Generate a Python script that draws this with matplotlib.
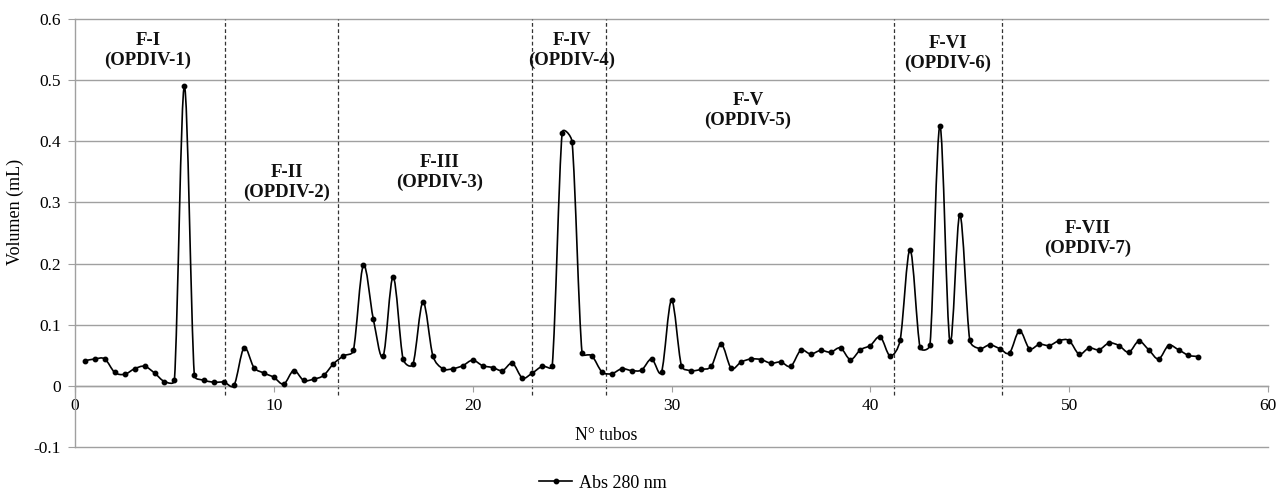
import numpy as np
import matplotlib
matplotlib.use('Agg')
import matplotlib.pyplot as plt
from matplotlib.path import Path
from matplotlib.patches import PathPatch
from matplotlib.lines import Line2D

plt.rcParams['font.family'] = ['Liberation Serif', 'DejaVu Serif']

# N° de tubo (cada 0.5)
tubes = [0.5, 1.0, 1.5, 2.0, 2.5, 3.0, 3.5, 4.0, 4.5, 5.0,
         5.5, 6.0, 6.5, 7.0, 7.5, 8.0, 8.5, 9.0, 9.5, 10.0,
         10.5, 11.0, 11.5, 12.0, 12.5, 13.0, 13.5, 14.0, 14.5, 15.0,
         15.5, 16.0, 16.5, 17.0, 17.5, 18.0, 18.5, 19.0, 19.5, 20.0,
         20.5, 21.0, 21.5, 22.0, 22.5, 23.0, 23.5, 24.0, 24.5, 25.0,
         25.5, 26.0, 26.5, 27.0, 27.5, 28.0, 28.5, 29.0, 29.5, 30.0,
         30.5, 31.0, 31.5, 32.0, 32.5, 33.0, 33.5, 34.0, 34.5, 35.0,
         35.5, 36.0, 36.5, 37.0, 37.5, 38.0, 38.5, 39.0, 39.5, 40.0,
         40.5, 41.0, 41.5, 42.0, 42.5, 43.0, 43.5, 44.0, 44.5, 45.0,
         45.5, 46.0, 46.5, 47.0, 47.5, 48.0, 48.5, 49.0, 49.5, 50.0,
         50.5, 51.0, 51.5, 52.0, 52.5, 53.0, 53.5, 54.0, 54.5, 55.0,
         55.5, 56.0, 56.5]

# Abs 280 nm
abs280 = [0.041, 0.044, 0.044, 0.022, 0.019, 0.028, 0.032, 0.021, 0.007, 0.009,
          0.490, 0.018, 0.009, 0.006, 0.006, 0.001, 0.062, 0.030, 0.021, 0.014,
          0.003, 0.025, 0.009, 0.011, 0.017, 0.036, 0.049, 0.058, 0.197, 0.110,
          0.049, 0.178, 0.044, 0.036, 0.137, 0.049, 0.028, 0.028, 0.033, 0.042,
          0.033, 0.030, 0.025, 0.037, 0.013, 0.021, 0.032, 0.032, 0.414, 0.399,
          0.054, 0.049, 0.023, 0.020, 0.028, 0.025, 0.026, 0.044, 0.023, 0.140,
          0.033, 0.025, 0.027, 0.032, 0.068, 0.029, 0.039, 0.044, 0.043, 0.037,
          0.039, 0.032, 0.058, 0.052, 0.058, 0.055, 0.062, 0.043, 0.059, 0.066,
          0.080, 0.049, 0.075, 0.223, 0.063, 0.067, 0.425, 0.073, 0.280, 0.075,
          0.061, 0.067, 0.061, 0.054, 0.090, 0.061, 0.068, 0.066, 0.074, 0.074,
          0.052, 0.062, 0.059, 0.070, 0.066, 0.055, 0.073, 0.059, 0.044, 0.066,
          0.059, 0.050, 0.048]

cortes = [7.55, 13.25, 23.0, 26.7, 41.2, 46.6]

fracciones = ['F-I\n(OPDIV-1)', 'F-II\n(OPDIV-2)', 'F-III\n(OPDIV-3)',
              'F-IV\n(OPDIV-4)', 'F-V\n(OPDIV-5)', 'F-VI\n(OPDIV-6)',
              'F-VII\n(OPDIV-7)']
frac_x = [3.67, 10.66, 18.36, 24.98, 33.85, 43.9, 50.95]
frac_y = [0.549, 0.333, 0.349, 0.549, 0.451, 0.543, 0.241]

xticks = [0, 10, 20, 30, 40, 50, 60]
yticks = [-0.1, 0, 0.1, 0.2, 0.3, 0.4, 0.5, 0.6]
ytick_labels = ['-0.1', '0', '0.1', '0.2', '0.3', '0.4', '0.5', '0.6']

gris = '#a0a0a0'

fig = plt.figure(figsize=(12.88, 4.93), dpi=100)
ax = fig.add_axes([75 / 1288, 46 / 493, 1193 / 1288, 428 / 493])
ax.set_xlim(0, 60)
ax.set_ylim(-0.1, 0.6)

# curva suavizada tipo Excel: bezier con puntos de control limitados (en pixeles)
P = ax.transData.transform(np.column_stack([tubes, abs280]))
n = len(P)
verts = [P[0]]
codes = [Path.MOVETO]
for i in range(n - 1):
    p0 = P[max(i - 1, 0)]
    p1 = P[i]
    p2 = P[i + 1]
    p3 = P[min(i + 2, n - 1)]
    seg = np.hypot(*(p2 - p1))
    t1 = (p2 - p0) / 6
    t2 = (p3 - p1) / 6
    l1 = np.hypot(*t1)
    l2 = np.hypot(*t2)
    if l1 > seg / 2:
        t1 = t1 * (seg / 2) / l1
    if l2 > seg / 2:
        t2 = t2 * (seg / 2) / l2
    verts += [p1 + t1, p2 - t2, p2]
    codes += [Path.CURVE4] * 3
verts = ax.transData.inverted().transform(np.array(verts))
ax.add_patch(PathPatch(Path(verts, codes), fill=False, edgecolor='black', lw=1.2, zorder=3))
ax.plot(tubes, abs280, ls='none', marker='o', ms=3.2, color='black', zorder=4)

ax.vlines(cortes, -0.015, 0.6, colors='#333333', linestyles=(0, (3, 2)), lw=0.9, zorder=2)

for txt, fx, fy in zip(fracciones, frac_x, frac_y):
    ax.text(fx, fy, txt, ha='center', va='center', fontsize=13.5,
            fontweight='bold', linespacing=1.2, color='#111111')

ax.set_xticks(xticks)
ax.set_yticks(yticks)
ax.set_yticklabels(ytick_labels)
ax.yaxis.grid(True, color=gris, lw=1.0, zorder=1)
for gl in ax.get_ygridlines():
    gl.set_clip_on(False)
ax.set_axisbelow(True)

for s in ['top', 'right']:
    ax.spines[s].set_visible(False)
ax.spines['bottom'].set_position(('data', 0))
ax.spines['bottom'].set_color(gris)
ax.spines['left'].set_color(gris)
ax.spines['bottom'].set_linewidth(1.0)
ax.spines['left'].set_linewidth(1.0)
ax.tick_params(axis='x', direction='out', length=4, color=gris, pad=5, labelsize=12.5)
ax.tick_params(axis='y', direction='out', length=5, color=gris, pad=5, labelsize=12.5)

ax.text(26.7, -0.082, 'N° tubos', ha='center', va='center', fontsize=12.7)
ax.set_ylabel('Volumen (mL)', fontsize=13)
ax.yaxis.set_label_coords(-0.0427, 0.549)

handle = Line2D([], [], color='black', marker='o', ms=3.2, lw=1.2, label='Abs 280 nm')
fig.legend(handles=[handle], loc='center', bbox_to_anchor=(603 / 1288, 1 - 483 / 493),
           frameon=False, fontsize=13, handlelength=1.8, handletextpad=0.4)

fig.savefig('out.png', dpi=100)
